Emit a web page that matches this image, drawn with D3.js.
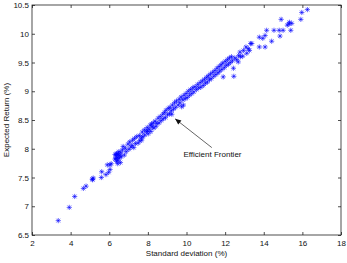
<!DOCTYPE html>
<html>
<head>
<meta charset="utf-8">
<script src="https://cdn.jsdelivr.net/npm/d3@7"></script>
<style>
  body { margin: 0; background: #fff; }
  text { font-family: "Liberation Sans", Arial, sans-serif; fill: #111; }
</style>
</head>
<body>
<div id="container"></div>
<script>
/* CONSTANTS AND GLOBALS */
const width = 347,
  height = 263,
  margin = { top: 5, right: 6, bottom: 28, left: 32 },
  armLen = 2.6;

const xTicks = [2, 4, 6, 8, 10, 12, 14, 16, 18];
const yTicks = [6.5, 7, 7.5, 8, 8.5, 9, 9.5, 10, 10.5];
const xLabel = "Standard deviation (%)";
const yLabel = "Expected Return (%)";
const noteText = "Efficient Frontier";
// [standard deviation, expected return] of each portfolio
const portfolios = [
  [3.36, 6.75], [3.93, 6.98], [4.21, 7.17], [4.66, 7.31], [4.80, 7.35],
  [5.14, 7.46], [5.17, 7.49], [5.12, 7.47], [5.61, 7.60], [5.59, 7.50],
  [5.83, 7.55], [5.90, 7.72], [5.97, 7.59], [6.04, 7.64], [6.04, 7.72],
  [6.10, 7.74], [6.35, 7.83], [6.39, 7.91],
  [6.30, 7.82], [6.35, 7.88], [6.38, 7.78], [6.40, 7.92], [6.42, 7.85],
  [6.45, 7.80], [6.48, 7.90], [6.50, 7.95], [6.52, 7.84], [6.55, 7.88],
  [6.58, 7.76], [6.60, 7.93], [6.62, 7.86], [6.30, 7.90], [6.44, 7.74],
  [6.68, 7.98], [6.72, 8.04], [6.78, 7.89], [6.83, 8.01], [6.88, 7.95],
  [6.97, 8.08], [7.02, 7.99], [7.06, 8.12], [7.12, 8.03], [7.18, 8.06],
  [7.21, 8.15], [7.27, 8.02], [7.31, 8.18], [7.36, 8.09], [7.42, 8.21],
  [7.50, 8.10], [7.56, 8.23], [7.58, 8.14], [7.66, 8.19], [7.71, 8.29],
  [7.74, 8.21], [7.82, 8.33], [7.84, 8.24], [7.93, 8.30], [7.97, 8.37],
  [8.02, 8.26], [8.07, 8.34], [8.13, 8.41], [8.16, 8.30], [8.23, 8.38],
  [8.28, 8.45], [8.31, 8.36], [8.38, 8.48], [8.42, 8.39], [8.47, 8.44],
  [7.68, 8.15], [7.99, 8.31], [8.19, 8.43],
  [8.53, 8.53], [8.58, 8.45], [8.64, 8.56], [8.69, 8.49], [8.77, 8.60],
  [8.79, 8.52], [8.86, 8.63], [8.91, 8.54], [8.94, 8.67], [9.02, 8.59],
  [9.06, 8.70], [9.12, 8.61], [9.14, 8.72], [9.21, 8.66], [9.27, 8.76],
  [9.24, 8.60], [9.33, 8.69], [9.38, 8.80], [9.44, 8.72], [9.48, 8.83],
  [9.57, 8.76], [9.62, 8.86], [9.66, 8.80], [9.72, 8.90], [9.75, 8.73],
  [9.81, 8.85], [9.87, 8.93], [9.84, 8.76], [9.93, 8.87], [9.98, 8.96],
  [10.04, 8.89], [10.09, 9.00], [10.16, 8.93], [10.21, 9.03], [10.27, 8.96],
  [10.33, 9.06], [10.38, 8.99], [10.44, 9.08],
  [10.52, 9.03], [10.58, 9.12], [10.63, 9.06], [10.71, 9.15], [10.74, 9.07],
  [10.82, 9.18], [10.87, 9.10], [10.93, 9.21], [10.98, 9.14], [11.04, 9.24],
  [11.08, 9.16], [11.13, 9.27], [11.19, 9.20], [11.24, 9.30], [11.28, 9.22],
  [11.36, 9.33], [11.41, 9.26], [11.47, 9.36], [11.52, 9.29], [11.58, 9.40],
  [11.63, 9.32], [11.69, 9.43], [11.72, 9.35], [11.79, 9.46], [11.83, 9.38],
  [11.88, 9.49], [11.90, 9.25], [11.96, 9.41], [12.01, 9.52], [12.06, 9.45],
  [12.12, 9.55], [12.17, 9.47], [12.22, 9.58], [12.27, 9.50], [12.33, 9.60],
  [12.38, 9.53], [12.43, 9.40], [12.45, 9.26],
  [12.50, 9.58], [12.60, 9.55], [12.68, 9.51], [12.70, 9.62], [12.77, 9.68],
  [12.80, 9.60], [12.91, 9.61], [12.95, 9.71], [13.08, 9.77], [13.12, 9.66],
  [13.20, 9.74], [13.26, 9.71], [13.32, 9.83], [13.38, 9.83],
  [13.77, 9.77], [13.77, 9.94], [13.95, 9.92], [14.07, 9.97], [14.07, 9.77],
  [14.15, 10.06], [14.41, 9.87], [14.53, 10.06], [14.80, 10.06], [14.84, 9.96],
  [14.90, 10.25], [15.00, 10.06], [15.22, 10.15], [15.30, 10.17], [15.33, 10.20],
  [15.45, 10.18], [15.40, 10.06], [15.92, 10.25], [15.97, 10.37], [16.26, 10.42]
];
// annotation anchor points in data units
const arrowTip = [9.41, 8.52];
const arrowTail = [11.31, 8.02];
const notePos = [9.84, 7.86];

const svg = d3.select("#container")
  .append("svg")
  .attr("width", width)
  .attr("height", height)
  .style("background-color", "white");

/* SCALES */
const xScale = d3.scaleLinear()
  .domain([2, 18])
  .range([margin.left, width - margin.right]);
const yScale = d3.scaleLinear()
  .domain([6.5, 10.5])
  .range([height - margin.bottom, margin.top]);

const x0 = xScale.range()[0], x1 = xScale.range()[1];
const y0 = yScale.range()[0], y1 = yScale.range()[1];

/* AXES (ticks point inward, box on) */
const fmt = d => String(d);
svg.append("g")
  .attr("transform", `translate(0,${y0})`)
  .call(d3.axisBottom(xScale).tickValues(xTicks).tickFormat(fmt).tickSize(-3).tickPadding(5))
  .call(g => g.select(".domain").remove());
svg.append("g")
  .attr("transform", `translate(0,${y1})`)
  .call(d3.axisTop(xScale).tickValues(xTicks).tickFormat("").tickSize(-3))
  .call(g => g.select(".domain").remove());
svg.append("g")
  .attr("transform", `translate(${x0},0)`)
  .call(d3.axisLeft(yScale).tickValues(yTicks).tickFormat(fmt).tickSize(-3).tickPadding(3))
  .call(g => g.select(".domain").remove());
svg.append("g")
  .attr("transform", `translate(${x1},0)`)
  .call(d3.axisRight(yScale).tickValues(yTicks).tickFormat("").tickSize(-3))
  .call(g => g.select(".domain").remove());

svg.selectAll(".tick line").attr("stroke", "#222").attr("stroke-width", 0.8);
svg.selectAll(".tick text").style("font-size", "8px").attr("fill", "#111");

svg.append("rect")
  .attr("x", x0).attr("y", y1)
  .attr("width", x1 - x0).attr("height", y0 - y1)
  .attr("fill", "none")
  .attr("stroke", "#222")
  .attr("stroke-width", 0.8);

/* MARKERS ('*' style) */
const d = armLen * 0.72;
const starPath = `M${-armLen},0H${armLen}M0,${-armLen}V${armLen}` +
  `M${-d},${-d}L${d},${d}M${-d},${d}L${d},${-d}`;
svg.selectAll(".dot")
  .data(portfolios)
  .join("path")
  .attr("class", "dot")
  .attr("transform", p => `translate(${xScale(p[0])},${yScale(p[1])})`)
  .attr("d", starPath)
  .attr("fill", "none")
  .attr("stroke", "#0000ff")
  .attr("stroke-width", 0.6);

/* LABELS */
svg.append("text")
  .attr("x", (x0 + x1) / 2)
  .attr("y", 256)
  .attr("text-anchor", "middle")
  .style("font-size", "8px")
  .text(xLabel);
svg.append("text")
  .attr("transform", `translate(9,${(y0 + y1) / 2}) rotate(-90)`)
  .attr("text-anchor", "middle")
  .style("font-size", "8px")
  .text(yLabel);

/* ANNOTATION */
const tip = [xScale(arrowTip[0]), yScale(arrowTip[1])];
const tail = [xScale(arrowTail[0]), yScale(arrowTail[1])];
const ang = Math.atan2(tip[1] - tail[1], tip[0] - tail[0]);
const headLen = 6, headW = 2.6;
svg.append("line")
  .attr("x1", tail[0]).attr("y1", tail[1])
  .attr("x2", tip[0]).attr("y2", tip[1])
  .attr("stroke", "#222").attr("stroke-width", 0.7);
const hx = tip[0] - headLen * Math.cos(ang), hy = tip[1] - headLen * Math.sin(ang);
const nx = -Math.sin(ang) * headW, ny = Math.cos(ang) * headW;
svg.append("path")
  .attr("d", `M${tip[0]},${tip[1]}L${hx + nx},${hy + ny}L${hx - nx},${hy - ny}Z`)
  .attr("fill", "#111");
svg.append("text")
  .attr("x", xScale(notePos[0]))
  .attr("y", yScale(notePos[1]))
  .style("font-size", "8px")
  .text(noteText);
</script>
</body>
</html>
